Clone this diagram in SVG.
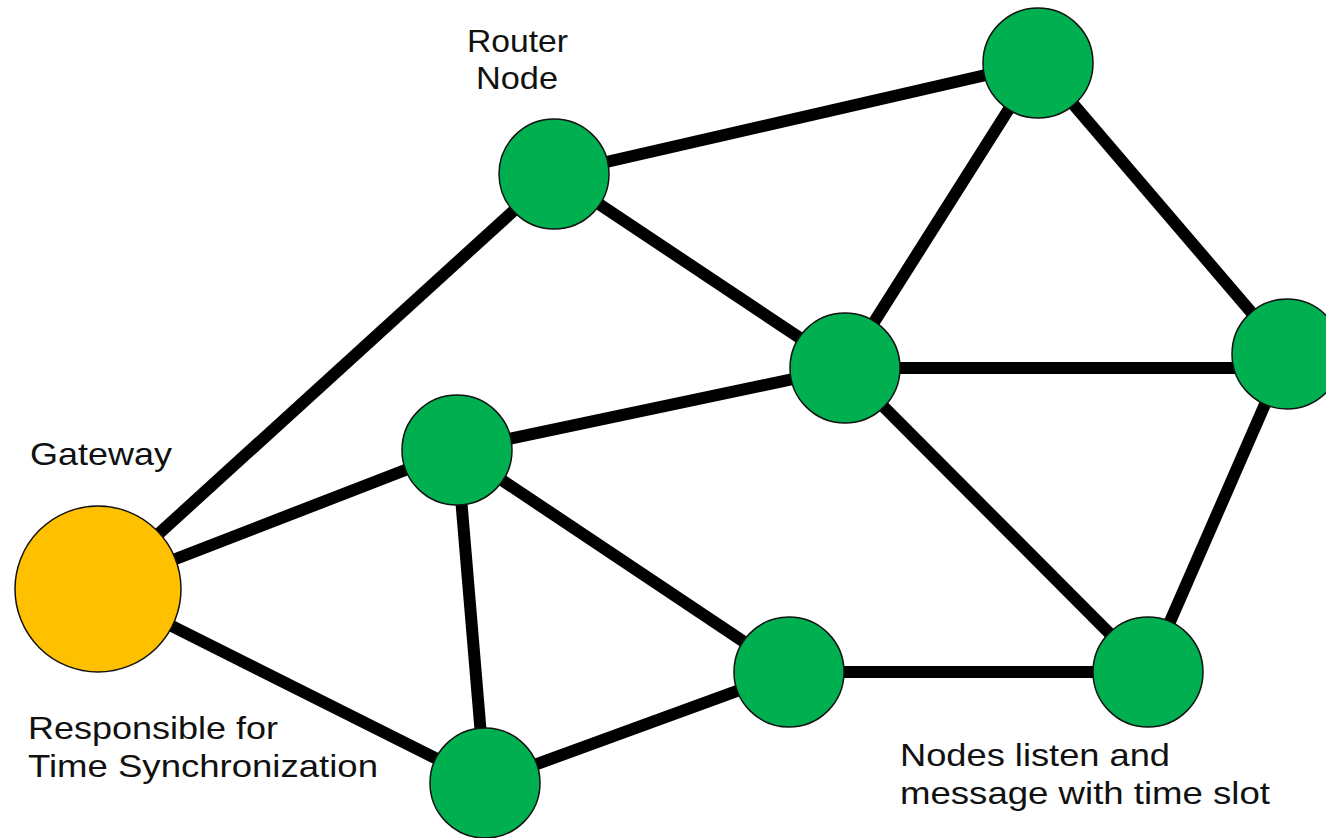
<svg xmlns="http://www.w3.org/2000/svg" width="1326" height="838" viewBox="0 0 1326 838">
<style>
.edge{stroke:#000;stroke-width:12;fill:none}
.node{fill:#00B050;stroke:#111;stroke-width:1.5}
.gw{fill:#FFC000;stroke:#111;stroke-width:1.5}
.lbl{font-family:"Liberation Sans",Arial,sans-serif;font-size:32px;fill:#111}
</style>
<rect width="1326" height="838" fill="#fff"/>
<g id="connectors">
<line class="edge" x1="98" y1="589" x2="554" y2="174"/>
<line class="edge" x1="98" y1="589" x2="457" y2="450"/>
<line class="edge" x1="98" y1="589" x2="485" y2="783"/>
<line class="edge" x1="554" y1="174" x2="1038" y2="63"/>
<line class="edge" x1="554" y1="174" x2="845" y2="368"/>
<line class="edge" x1="1038" y1="63" x2="845" y2="368"/>
<line class="edge" x1="1038" y1="63" x2="1287" y2="354"/>
<line class="edge" x1="845" y1="368" x2="1287" y2="368"/>
<line class="edge" x1="845" y1="368" x2="457" y2="450"/>
<line class="edge" x1="845" y1="368" x2="1148" y2="672"/>
<line class="edge" x1="1287" y1="354" x2="1148" y2="672"/>
<line class="edge" x1="457" y1="450" x2="485" y2="783"/>
<line class="edge" x1="457" y1="450" x2="789" y2="672"/>
<line class="edge" x1="789" y1="672" x2="485" y2="783"/>
<line class="edge" x1="789" y1="672" x2="1148" y2="672"/>
</g>
<g id="gateway"><circle class="gw" cx="98" cy="589" r="83"/></g>
<g id="router"><circle class="node" cx="554" cy="174" r="55"/></g>
<g id="node-top-right"><circle class="node" cx="1038" cy="63" r="55"/></g>
<g id="node-center"><circle class="node" cx="845" cy="368" r="55"/></g>
<g id="node-right"><circle class="node" cx="1287" cy="354" r="55"/></g>
<g id="node-left-mid"><circle class="node" cx="457" cy="450" r="55"/></g>
<g id="node-bottom-mid"><circle class="node" cx="789" cy="672" r="55"/></g>
<g id="node-bottom-right"><circle class="node" cx="1148" cy="672" r="55"/></g>
<g id="node-bottom-left"><circle class="node" cx="485" cy="783" r="55"/></g>
<g id="labels">
<text class="lbl" x="467" y="52" textLength="101" lengthAdjust="spacingAndGlyphs">Router</text>
<text class="lbl" x="476" y="89" textLength="82" lengthAdjust="spacingAndGlyphs">Node</text>
<text class="lbl" x="30" y="465" textLength="142" lengthAdjust="spacingAndGlyphs">Gateway</text>
<text class="lbl" x="28" y="739" textLength="250" lengthAdjust="spacingAndGlyphs">Responsible for</text>
<text class="lbl" x="28" y="777" textLength="350" lengthAdjust="spacingAndGlyphs">Time Synchronization</text>
<text class="lbl" x="900" y="766" textLength="270" lengthAdjust="spacingAndGlyphs">Nodes listen and</text>
<text class="lbl" x="900" y="804" textLength="370" lengthAdjust="spacingAndGlyphs">message with time slot</text>
</g>
</svg>
